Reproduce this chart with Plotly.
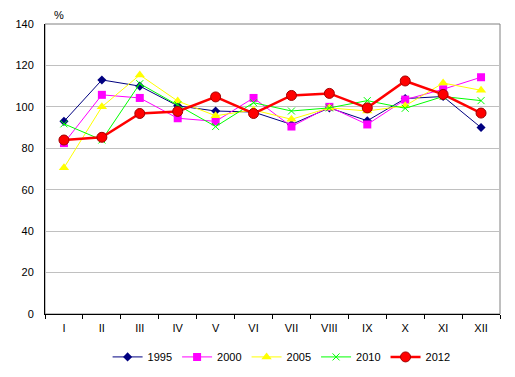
import plotly.graph_objects as go

months = ["I", "II", "III", "IV", "V", "VI", "VII", "VIII", "IX", "X", "XI", "XII"]
y1995 = [93, 113, 110, 100.5, 98, 97.5, 91.5, 99.5, 93.3, 104, 105, 90]
y2000 = [82.5, 105.8, 104.3, 94.5, 93, 104.3, 90.5, 100, 91.5, 103.5, 108.5, 114.3]
y2005 = [70.6, 100, 115.4, 102.8, 95.7, 98.5, 94, 99.5, 98, 100.5, 111.5, 108]
y2010 = [91.8, 84, 111.2, 101, 90.5, 102, 98, 99.5, 103, 99.3, 105, 103]
y2012 = [84, 85.3, 96.8, 97.8, 104.8, 96.8, 105.5, 106.5, 99.5, 112.5, 106, 97]
yticks = [0, 20, 40, 60, 80, 100, 120, 140]

series = [
    ("1995", y1995, "#000080", 1, dict(symbol="diamond", size=7, color="#000080")),
    ("2000", y2000, "#FF00FF", 1, dict(symbol="square", size=8, color="#FF00FF")),
    ("2005", y2005, "#FFFF00", 1, dict(symbol="triangle-up", size=9, color="#FFFF00")),
    ("2010", y2010, "#00FF00", 1, dict(symbol="x-thin", size=7, color="#00FF00",
                                        line=dict(color="#00FF00", width=1))),
    ("2012", y2012, "#FF0000", 2.5, dict(symbol="circle", size=10, color="#FF0000",
                                          line=dict(color="#A00000", width=1))),
]

fig = go.Figure()
for name, ys, col, w, mk in series:
    fig.add_trace(go.Scatter(x=months, y=ys, name=name, mode="lines+markers",
                             line=dict(color=col, width=w), marker=mk))

# page body adds an 8px offset, so the figure is sized 8px smaller
fig.update_layout(
    width=507, height=369,
    margin=dict(l=37, r=15, t=16, b=63, autoexpand=False),
    paper_bgcolor="white", plot_bgcolor="white",
    font=dict(family="Liberation Sans, Arial", size=11, color="black"),
    showlegend=True,
    legend=dict(orientation="h", x=0.52, xanchor="center", y=-0.148, yanchor="middle",
                font=dict(size=11), itemwidth=30, tracegroupgap=0),
    shapes=[dict(type="rect", xref="paper", yref="paper", x0=0, x1=1, y0=0, y1=1,
                 line=dict(color="#808080", width=1), layer="below")],
    annotations=[dict(text="%", xref="paper", yref="paper", x=0.015, y=1.0,
                      xanchor="left", yanchor="bottom", showarrow=False,
                      font=dict(size=11), yshift=1)],
)
fig.update_xaxes(type="category", tickson="boundaries", ticks="outside", ticklen=4,
                 tickcolor="black", showline=True, linecolor="black", linewidth=1,
                 showgrid=False, tickfont=dict(size=11), range=[-0.5, 11.5],
                 ticklabelstandoff=4)
fig.update_yaxes(range=[0, 140], tickvals=yticks, showline=True, linecolor="black",
                 linewidth=1, showgrid=True, gridcolor="#C0C0C0", gridwidth=1,
                 zeroline=False, ticks="", tickfont=dict(size=11),
                 ticklabelstandoff=8)

fig.write_html("out.html")
